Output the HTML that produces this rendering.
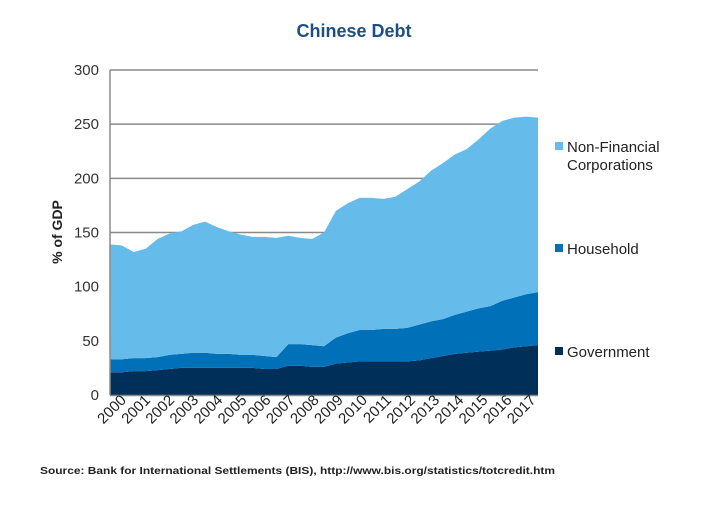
<!DOCTYPE html>
<html><head><meta charset="utf-8"><style>
body{margin:0;background:#fff;width:720px;height:500px;overflow:hidden;font-family:"Liberation Sans",sans-serif}
</style></head><body>
<svg id="chart" width="720" height="500" xmlns="http://www.w3.org/2000/svg">
<text x="354" y="37" text-anchor="middle" font-size="18" font-weight="bold" fill="#1d4f82">Chinese Debt</text>
<text transform="translate(62,232) rotate(-90)" text-anchor="middle" font-size="14" font-weight="bold" fill="#222">% of GDP</text>
<text x="40" y="474" font-size="10.5" font-weight="bold" fill="#222" textLength="515" lengthAdjust="spacingAndGlyphs">Source: Bank for International Settlements (BIS), http://www.bis.org/statistics/totcredit.htm</text>
<g id="grid"></g><g id="areas"></g><g id="axes"></g><g id="legend"></g>
</svg>
<script>
const years=["2000","2001","2002","2003","2004","2005","2006","2007","2008","2009","2010","2011","2012","2013","2014","2015","2016","2017"];
const yTicks=[0,50,100,150,200,250,300];
const government=[21,21,22,22,23,24,25,25,25,25,25,25,25,24,24,27,27,26,26,29,30,31,31,31,31,31,32,34,36,38,39,40,41,42,44,45,46];
const household=[12,12,12,12,12,13,13,14,14,13,13,12,12,12,11,20,20,20,19,24,27,29,29,30,30,31,33,34,34,36,38,40,41,45,46,48,49];
const corporations=[106,105,98,101,109,112,113,118,121,117,113,111,109,110,110,100,98,98,105,117,120,122,122,120,122,128,132,139,144,148,150,156,164,166,166,164,161];
const NS="http://www.w3.org/2000/svg";
const X0=110,X1=538,Y0=395,Y1=70,YMAX=300;
const n=government.length;
const xs=i=>X0+i*(X1-X0)/(n-1);
const ys=v=>Y0-v*(Y0-Y1)/YMAX;
function mk(tag,attrs,parent){const e=document.createElementNS(NS,tag);for(const k in attrs)e.setAttribute(k,attrs[k]);parent.appendChild(e);return e;}
const grid=document.getElementById('grid'),axes=document.getElementById('axes'),areas=document.getElementById('areas'),legend=document.getElementById('legend');
yTicks.forEach(t=>{
  if(t>0){const l=mk('line',{x1:X0,x2:X1,y1:ys(t),y2:ys(t),stroke:'#8a8a8a','stroke-width':1.5},grid);
  
  }
  const tx=mk('text',{x:99,y:ys(t)+5,'text-anchor':'end','font-size':15,fill:'#333'},axes);tx.textContent=t;
  
  
});
const series=[{name:'government',data:government,color:'#00305a'},{name:'household',data:household,color:'#0071b9'},{name:'non-financial-corporations',data:corporations,color:'#65bbea'}];
let base=new Array(n).fill(0);
series.forEach(s=>{
  const top=base.map((b,i)=>b+s.data[i]);
  let d='M'+xs(0)+','+ys(top[0]);
  for(let i=1;i<n;i++)d+='L'+xs(i)+','+ys(top[i]);
  for(let i=n-1;i>=0;i--)d+='L'+xs(i)+','+ys(base[i]);
  d+='Z';
  const p=mk('path',{d:d,fill:s.color},areas);
  
  
  base=top;
});
const la=mk('line',{x1:X0,x2:X0,y1:Y1,y2:Y0,stroke:'#8a8a8a','stroke-width':1.5},axes);


const lb=mk('line',{x1:X0,x2:X1,y1:Y0+0.5,y2:Y0+0.5,stroke:'#8a8a8a','stroke-width':1.5},axes);


years.forEach((yr,i)=>{
  const x=127+i*24.1;
  const t=mk('text',{transform:'translate('+x+',401) rotate(-45)','text-anchor':'end','font-size':15,fill:'#222'},axes);
  t.textContent=yr;
  
  
});
const leg=[{label:['Non-Financial','Corporations'],color:'#65bbea',y:148},{label:['Household'],color:'#0071b9',y:250},{label:['Government'],color:'#00305a',y:353}];
leg.forEach((l,k)=>{
  const g=mk('g',{},legend);
  
  
  mk('rect',{x:555,y:l.y-6,width:8,height:8,fill:l.color},g);
  l.label.forEach((s,j)=>{const t=mk('text',{x:567,y:l.y+4+j*18,'font-size':15,fill:'#222'},g);t.textContent=s;});
});
</script>
</body></html>
